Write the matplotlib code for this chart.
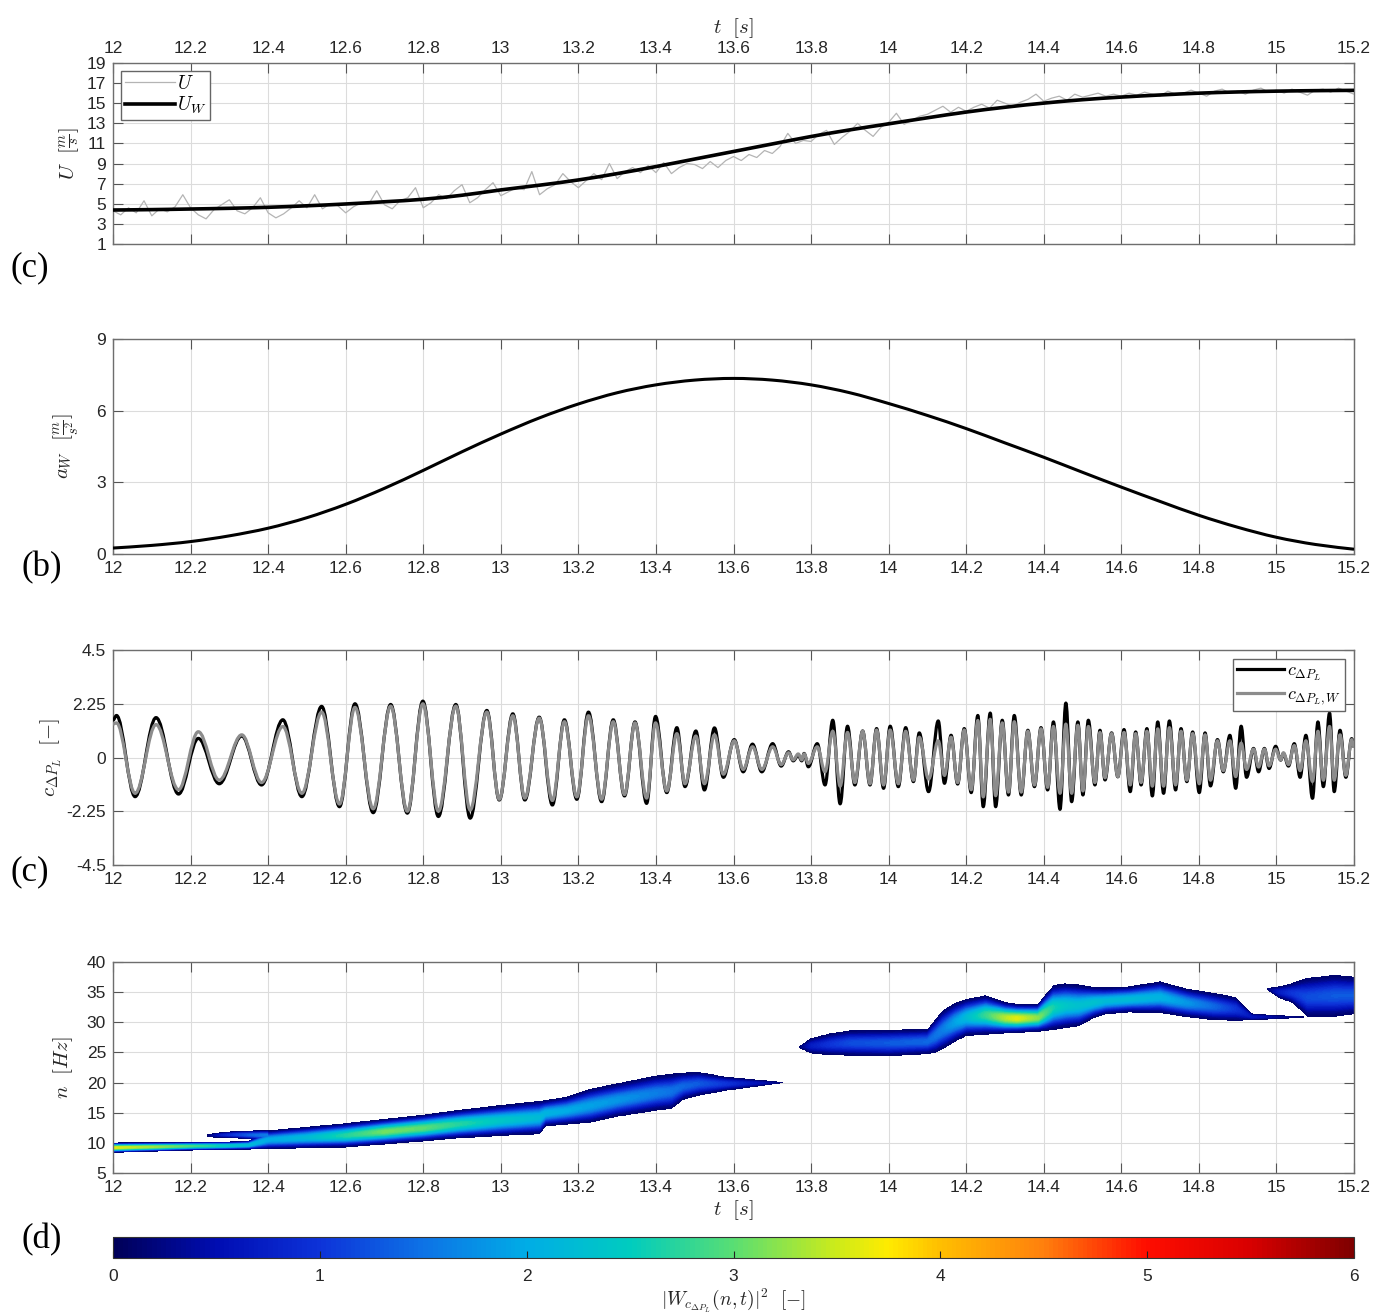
import numpy as np
import matplotlib
matplotlib.use('Agg')
import matplotlib.pyplot as plt
import matplotlib.colors as mcolors
import matplotlib.colorbar as mcolorbar
from matplotlib.path import Path
from matplotlib.patches import PathPatch
from matplotlib.lines import Line2D

plt.rcParams['mathtext.fontset'] = 'cm'
plt.rcParams['axes.unicode_minus'] = False
plt.rcParams['font.family'] = 'Liberation Sans'

T0, T1 = 12.0, 15.2
t_ticks = np.round(np.arange(12.0, 15.21, 0.2), 1)

# (a) velocity: raw signal U every 0.02 s, smoothed U_W every 0.1 s
u_t = np.round(np.arange(12.0, 15.201, 0.02), 2)
u_raw = [
    4.3, 3.9, 4.6, 4.1, 5.3, 3.8, 4.5, 4.2, 4.7, 5.9,
    4.6, 3.9, 3.5, 4.4, 4.9, 5.4, 4.3, 4.0, 4.6, 5.6,
    4.1, 3.6, 4.0, 4.6, 5.3, 4.6, 5.9, 4.5, 5.0, 4.8,
    4.1, 4.7, 5.1, 5.0, 6.3, 4.9, 4.5, 5.3, 5.6, 6.6,
    4.6, 5.1, 5.9, 5.5, 6.3, 6.9, 5.1, 5.6, 6.4, 7.1,
    5.8, 6.2, 6.6, 6.4, 8.2, 5.9, 6.5, 6.9, 8.0, 7.2,
    6.6, 7.3, 8.0, 7.4, 9.0, 7.5, 8.2, 8.6, 8.1, 8.8,
    8.1, 9.1, 8.0, 8.6, 9.0, 8.9, 8.5, 9.2, 8.6, 9.3,
    9.7, 9.3, 9.9, 9.6, 10.3, 10.0, 10.7, 12.0, 11.0, 11.3,
    11.2, 11.9, 12.3, 10.9, 11.6, 12.2, 13.0, 12.3, 11.7, 12.6,
    13.1, 14.0, 12.9, 13.3, 13.7, 13.9, 14.3, 14.7, 14.1, 14.6,
    14.2, 14.6, 14.9, 14.5, 15.3, 15.0, 14.7, 15.1, 15.4, 15.9,
    15.2, 15.5, 15.7, 15.3, 15.9, 15.6, 15.8, 16.0, 15.7, 15.9,
    15.7, 16.0, 15.8, 16.1, 15.9, 15.7, 16.2, 15.9, 16.0, 16.3,
    16.0, 15.7, 16.2, 16.4, 16.0, 16.2, 15.9, 16.3, 16.5, 16.1,
    16.3, 16.0, 16.4, 16.1, 15.8, 16.3, 16.4, 16.1, 16.5, 16.2,
    15.9]
uw_t = np.round(np.arange(12.0, 15.201, 0.1), 1)
u_w = [4.38, 4.42, 4.48, 4.55, 4.65, 4.80, 4.98, 5.20, 5.45, 5.85,
       6.38, 6.85, 7.37, 8.00, 8.70, 9.45, 10.20, 10.95, 11.69, 12.35,
       12.95, 13.55, 14.12, 14.60, 15.01, 15.35, 15.61, 15.82, 16.00, 16.12,
       16.20, 16.25, 16.28]

# (b) acceleration a_W every 0.1 s
a_w = [0.25, 0.36, 0.52, 0.76, 1.08, 1.52, 2.08, 2.75, 3.50, 4.28,
       5.02, 5.70, 6.28, 6.75, 7.08, 7.28, 7.35, 7.28, 7.08, 6.75,
       6.30, 5.80, 5.25, 4.65, 4.05, 3.42, 2.80, 2.20, 1.62, 1.12,
       0.70, 0.40, 0.20]

# (c) pressure coefficient, extremes of each oscillation
c_t = [12.000, 12.009, 12.057, 12.111, 12.169, 12.220, 12.274, 12.332, 12.383, 12.438,
       12.487, 12.538, 12.584, 12.624, 12.671, 12.716, 12.759, 12.799, 12.839, 12.884,
       12.921, 12.964, 12.996, 13.031, 13.062, 13.099, 13.133, 13.164, 13.196, 13.226,
       13.260, 13.290, 13.319, 13.346, 13.376, 13.399, 13.428, 13.454, 13.475, 13.503,
       13.525, 13.551, 13.574, 13.602, 13.625, 13.649, 13.673, 13.701, 13.723, 13.742,
       13.754, 13.767, 13.776, 13.782, 13.793, 13.816, 13.836, 13.856, 13.875, 13.894,
       13.913, 13.933, 13.952, 13.969, 13.987, 14.004, 14.025, 14.044, 14.064, 14.079,
       14.103, 14.128, 14.144, 14.161, 14.178, 14.195, 14.213, 14.230, 14.244, 14.262,
       14.276, 14.293, 14.309, 14.324, 14.342, 14.359, 14.376, 14.393, 14.410, 14.425,
       14.442, 14.457, 14.472, 14.488, 14.501, 14.515, 14.532, 14.545, 14.558, 14.575,
       14.591, 14.607, 14.623, 14.637, 14.651, 14.666, 14.680, 14.694, 14.709, 14.724,
       14.740, 14.754, 14.769, 14.784, 14.801, 14.816, 14.830, 14.848, 14.863, 14.880,
       14.895, 14.909, 14.923, 14.941, 14.954, 14.969, 14.981, 14.998, 15.011, 15.018,
       15.031, 15.046, 15.061, 15.076, 15.093, 15.107, 15.121, 15.137, 15.149, 15.164,
       15.179, 15.194, 15.200]
c_raw = [1.56, 1.76, -1.64, 1.67, -1.53, 0.80, -1.10, 0.90, -1.15, 1.58,
         -1.64, 2.14, -2.06, 2.25, -2.31, 2.22, -2.33, 2.36, -2.47, 2.22,
         -2.54, 1.97, -1.78, 1.83, -1.78, 1.69, -1.99, 1.58, -1.75, 1.90,
         -1.85, 1.58, -1.61, 1.49, -1.92, 1.72, -1.47, 1.25, -1.22, 1.11,
         -1.36, 1.24, -0.83, 0.75, -0.60, 0.56, -0.60, 0.58, -0.36, 0.24,
         -0.14, 0.10, -0.14, 0.17, -0.39, 0.58, -1.15, 1.56, -1.94, 1.31,
         -1.15, 1.11, -1.15, 1.21, -1.29, 1.31, -1.22, 1.25, -1.01, 1.03,
         -1.43, 1.53, -1.08, 0.93, -1.11, 1.21, -1.47, 1.76, -2.06, 1.86,
         -2.06, 1.56, -1.57, 1.76, -1.57, 1.14, -1.22, 1.25, -1.36, 1.49,
         -2.17, 2.28, -1.85, 1.49, -1.57, 1.56, -1.15, 1.14, -0.94, 1.03,
         -0.81, 1.17, -1.43, 1.07, -1.15, 1.21, -1.61, 1.49, -1.50, 1.53,
         -1.36, 1.21, -1.01, 1.07, -1.47, 1.03, -1.19, 0.75, -0.60, 0.93,
         -1.29, 1.31, -0.83, 0.38, -0.60, 0.38, -0.46, 0.47, -0.11, 0.17,
         -0.36, 0.58, -0.83, 0.93, -1.71, 1.49, -1.22, 1.86, -1.43, 1.14,
         -0.83, 0.79, 0.45]
c_w = [1.40, 1.45, -1.50, 1.38, -1.35, 1.08, -0.95, 0.95, -1.05, 1.30,
       -1.50, 1.90, -1.95, 2.10, -2.15, 2.15, -2.25, 2.25, -2.25, 2.15,
       -2.20, 1.90, -1.75, 1.75, -1.70, 1.65, -1.80, 1.50, -1.65, 1.75,
       -1.75, 1.50, -1.55, 1.45, -1.70, 1.45, -1.40, 1.00, -1.10, 0.90,
       -1.10, 0.95, -0.70, 0.70, -0.50, 0.45, -0.50, 0.45, -0.30, 0.20,
       -0.10, 0.15, -0.10, 0.15, -0.25, 0.45, -0.60, 1.10, -1.20, 1.05,
       -1.05, 1.10, -1.10, 1.15, -1.15, 1.15, -1.10, 1.10, -0.95, 0.85,
       -0.90, 0.70, -0.75, 0.85, -1.05, 1.15, -1.35, 1.55, -1.65, 1.60,
       -1.60, 1.45, -1.45, 1.50, -1.45, 1.10, -1.15, 1.20, -1.25, 1.30,
       -1.50, 1.40, -1.50, 1.35, -1.40, 1.30, -1.05, 1.05, -0.85, 1.00,
       -0.80, 1.05, -1.15, 1.00, -1.05, 1.10, -1.20, 1.20, -1.20, 1.25,
       -1.15, 1.10, -0.95, 1.00, -1.10, 0.95, -0.95, 0.70, -0.55, 0.70,
       -0.80, 0.60, -0.50, 0.35, -0.40, 0.35, -0.35, 0.35, -0.10, 0.20,
       -0.30, 0.50, -0.55, 0.70, -1.00, 1.10, -0.95, 1.30, -0.95, 0.95,
       -0.75, 0.75, 0.45]

# (d) wavelet power ridges: time, lower / upper edge [Hz], peak power
r1_t = [12.00, 12.10, 12.20, 12.30, 12.35, 12.40, 12.50, 12.60, 12.70, 12.80,
        12.89, 13.00, 13.10, 13.115, 13.17, 13.23, 13.30, 13.40, 13.44, 13.47,
        13.51, 13.58, 13.65, 13.73]
r1_lo = [8.4, 8.6, 8.8, 8.9, 8.95, 9.0, 9.15, 9.3, 9.8, 10.3,
         10.8, 11.2, 11.5, 12.8, 13.1, 13.4, 14.4, 15.4, 15.7, 17.2,
         17.9, 18.7, 19.3, 20.0]
r1_hi = [10.0, 10.05, 10.1, 10.15, 10.3, 12.0, 12.6, 13.2, 13.9, 14.6,
         15.4, 16.2, 16.9, 17.0, 17.6, 18.9, 19.8, 21.1, 21.4, 21.6,
         21.7, 20.9, 20.5, 20.0]
r1_pk = [3.6, 3.3, 2.9, 2.4, 2.2, 2.0, 2.2, 2.7, 3.1, 3.0,
         2.7, 2.4, 2.2, 2.1, 2.0, 1.9, 1.8, 1.6, 1.5, 1.4,
         1.3, 1.0, 0.6, 0.15]

r2_t = [12.243, 12.28, 12.32, 12.36, 12.40]
r2_lo = [11.0, 10.9, 10.8, 10.6, 10.4]
r2_hi = [11.4, 11.7, 11.9, 12.0, 12.05]
r2_pk = [0.12, 0.7, 1.1, 1.4, 1.6]

r3_t = [13.77, 13.80, 13.85, 13.90, 14.00, 14.10, 14.12, 14.14, 14.17, 14.20,
        14.25, 14.30, 14.33, 14.385, 14.405, 14.425, 14.456, 14.49, 14.53, 14.56,
        14.62, 14.70, 14.77, 14.84, 14.895, 14.936, 15.00, 15.07]
r3_lo = [25.8, 24.9, 24.6, 24.5, 24.4, 24.8, 25.0, 25.6, 26.8, 27.8,
         28.0, 28.2, 28.3, 28.5, 28.6, 28.8, 29.1, 29.4, 30.8, 31.4,
         31.7, 31.6, 30.9, 30.4, 30.3, 30.4, 30.6, 30.8]
r3_hi = [26.0, 27.3, 28.1, 28.6, 28.7, 28.8, 30.4, 31.9, 33.1, 33.8,
         34.4, 33.3, 33.0, 33.0, 34.6, 36.1, 36.4, 36.2, 35.8, 35.7,
         35.9, 36.7, 35.5, 34.8, 34.1, 31.4, 31.1, 31.0]
r3_pk = [0.12, 0.7, 1.0, 1.2, 1.3, 1.4, 1.5, 1.6, 1.9, 2.2,
         2.8, 3.4, 3.6, 3.2, 2.9, 2.6, 2.4, 2.3, 2.3, 2.2,
         2.2, 2.1, 1.8, 1.4, 1.0, 0.6, 0.35, 0.12]

r4_t = [14.977, 15.007, 15.04, 15.06, 15.08, 15.15, 15.2]
r4_lo = [35.4, 34.1, 33.3, 32.2, 31.0, 31.0, 31.4]
r4_hi = [35.6, 35.9, 36.4, 36.9, 37.3, 37.8, 37.5]
r4_pk = [0.12, 0.7, 1.0, 1.1, 1.2, 1.3, 1.3]

ridges = [(r1_t, r1_lo, r1_hi, r1_pk), (r2_t, r2_lo, r2_hi, r2_pk),
          (r3_t, r3_lo, r3_hi, r3_pk), (r4_t, r4_lo, r4_hi, r4_pk)]

# colour map of the power scale
cmap_stops = [(0.0, '#000059'), (0.5, '#000db3'), (1.0, '#0d33d9'),
              (1.5, '#0d73e6'), (2.0, '#00ade6'), (2.5, '#00ccbf'),
              (3.0, '#59de73'), (3.5, '#cceb1a'), (3.75, '#ffeb00'),
              (4.0, '#ffbf00'), (4.5, '#ff800d'), (5.0, '#ff0d00'),
              (5.5, '#d90000'), (6.0, '#800000')]
power_cmap = mcolors.LinearSegmentedColormap.from_list(
    'power', [(v / 6.0, c) for v, c in cmap_stops])


def ridge_power(tt, ff, t, lo, hi, pk, floor=0.1):
    """power map of one ridge, peaked across frequency between its edges"""
    lo_i = np.interp(tt, t, lo)
    hi_i = np.interp(tt, t, hi)
    pk_i = np.interp(tt, t, pk)
    c = 0.5 * (lo_i + hi_i)
    hw = np.maximum(0.5 * (hi_i - lo_i), 1e-3)
    d = (ff[:, None] - c[None, :]) / hw[None, :]
    shape = np.clip(1 - d ** 2, 0, None) ** 2
    val = floor + (pk_i[None, :] - floor) * shape
    inside = (np.abs(d) < 1) & (tt >= t[0])[None, :] & (tt <= t[-1])[None, :]
    return np.where(inside, val, 0.0)


def extrema_path(t, v, k=0.36):
    """smooth path through successive extremes, flat at each of them"""
    verts = [(t[0], v[0])]
    codes = [Path.MOVETO]
    for i in range(1, len(t)):
        dt = t[i] - t[i - 1]
        verts += [(t[i - 1] + k * dt, v[i - 1]), (t[i] - k * dt, v[i]), (t[i], v[i])]
        codes += [Path.CURVE4] * 3
    return Path(verts, codes)


def spline_path(x, y):
    """Catmull-Rom curve through the samples, as cubic Bezier segments"""
    x = np.asarray(x, float)
    y = np.asarray(y, float)
    n = len(x)
    verts = [(x[0], y[0])]
    codes = [Path.MOVETO]
    for i in range(n - 1):
        i0, i3 = max(i - 1, 0), min(i + 2, n - 1)
        c1 = (x[i] + (x[i + 1] - x[i0]) / 6, y[i] + (y[i + 1] - y[i0]) / 6)
        c2 = (x[i + 1] - (x[i3] - x[i]) / 6, y[i + 1] - (y[i3] - y[i]) / 6)
        verts += [c1, c2, (x[i + 1], y[i + 1])]
        codes += [Path.CURVE4] * 3
    return Path(verts, codes)


W, H = 1389.0, 1315.0
fig = plt.figure(figsize=(W / 100, H / 100), dpi=100)


def px_axes(x0, y0, x1, y1):
    return fig.add_axes([x0 / W, 1 - y1 / H, (x1 - x0) / W, (y1 - y0) / H])


def style(ax):
    ax.set_xlim(T0, T1)
    ax.set_xticks(t_ticks)
    ax.set_xticklabels(['%g' % v for v in t_ticks])
    ax.grid(True, color='#dcdcdc', lw=0.8)
    ax.set_axisbelow(True)
    ax.tick_params(direction='in', top=True, right=True, length=7, width=0.8,
                   color='#555555', labelsize=12.5, labelcolor='#262626', pad=5)
    for s in ax.spines.values():
        s.set_color('#6e6e6e')
        s.set_linewidth(1.0)


lab_kw = dict(fontsize=15, color='#262626')

# panel (a)
ax1 = px_axes(113, 63, 1354, 244)
ax1.plot(u_t, u_raw, color='#b4b4b4', lw=0.9)
ax1.add_patch(PathPatch(spline_path(uw_t, u_w), fill=False, ec='black',
                        lw=2.6, zorder=3))
style(ax1)
ax1.set_ylim(1, 19)
ax1.set_yticks(np.arange(1, 20, 2))
ax1.tick_params(labeltop=True, labelbottom=False)
ax1.xaxis.set_label_position('top')
ax1.set_xlabel(r'$t\ \ [s]$', labelpad=6, **lab_kw)
ax1.set_ylabel(r'$U\ \ [\frac{m}{s}]$', labelpad=4, **lab_kw)
ax1.legend([Line2D([], [], color='#b4b4b4', lw=0.9),
            Line2D([], [], color='black', lw=2.6)], [r'$U$', r'$U_W$'],
           loc='upper left', fontsize=14, fancybox=False, edgecolor='#666666',
           framealpha=1, handlelength=2.6, handletextpad=0.1,
           borderpad=0.2, labelspacing=0.1, borderaxespad=0.4)

# panel (b)
ax2 = px_axes(113, 339, 1354, 554)
ax2.add_patch(PathPatch(spline_path(uw_t, a_w), fill=False, ec='black',
                        lw=2.2, zorder=3))
style(ax2)
ax2.set_ylim(0, 9)
ax2.set_yticks([0, 3, 6, 9])
ax2.set_ylabel(r'$a_W\ \ [\frac{m}{s^2}]$', labelpad=10, **lab_kw)

# panel (c)
ax3 = px_axes(113, 650, 1354, 865)
ax3.add_patch(PathPatch(extrema_path(c_t, c_raw), fill=False, ec='black',
                        lw=2.3, joinstyle='round', zorder=3))
ax3.add_patch(PathPatch(extrema_path(c_t, c_w), fill=False, ec='#8c8c8c',
                        lw=2.3, joinstyle='round', zorder=4))
style(ax3)
ax3.set_ylim(-4.5, 4.5)
ax3.set_yticks([-4.5, -2.25, 0, 2.25, 4.5])
ax3.set_yticklabels(['-4.5', '-2.25', '0', '2.25', '4.5'])
ax3.set_ylabel(r'$c_{\Delta P_L}\ \ [-]$', labelpad=2, **lab_kw)
handles = [Line2D([], [], color='black', lw=2.3),
           Line2D([], [], color='#8c8c8c', lw=2.3)]
ax3.legend(handles, [r'$c_{\Delta P_L}$', r'$c_{\Delta P_L,W}$'],
           loc='upper right', fontsize=13, fancybox=False, edgecolor='#666666',
           framealpha=1, handlelength=2.6, handletextpad=0.2,
           borderpad=0.2, labelspacing=0.2, borderaxespad=0.5)

# panel (d)
ax4 = px_axes(113, 962, 1354, 1173)
tt = np.linspace(T0, T1, 1600)
ff = np.linspace(5, 40, 700)
power = np.zeros((ff.size, tt.size))
for t, lo, hi, pk in ridges:
    power = np.maximum(power, ridge_power(tt, ff, t, lo, hi, pk))
norm = mcolors.Normalize(0, 6)
ax4.contourf(tt, ff, power, levels=np.linspace(0.1, 6, 120), cmap=power_cmap,
             norm=norm, zorder=2)
style(ax4)
ax4.set_ylim(5, 40)
ax4.set_yticks(np.arange(5, 41, 5))
ax4.set_xlabel(r'$t\ \ [s]$', labelpad=2, **lab_kw)
ax4.set_ylabel(r'$n\ \ [Hz]$', labelpad=8, **lab_kw)

# colour bar
cax = px_axes(113, 1237, 1354, 1258)
cb = mcolorbar.ColorbarBase(cax, cmap=power_cmap, norm=norm, orientation='horizontal')
cb.set_ticks(range(7))
cb.ax.tick_params(direction='in', length=5, width=0.8, color='#222222',
                  labelsize=12.5, labelcolor='#262626', pad=8)
cb.outline.set_edgecolor('#333333')
cb.set_label(r'$|W_{c_{\Delta P_L}}(n,t)|^2\ \ [-]$', fontsize=14,
             color='#262626', labelpad=2)

# panel letters
for txt, x, y in [('(c)', 30, 268), ('(b)', 42, 568), ('(c)', 30, 872), ('(d)', 42, 1240)]:
    fig.text(x / W, 1 - y / H, txt, fontsize=25, family='Liberation Serif',
             ha='center', va='center')

fig.savefig('out.png', dpi=100)
